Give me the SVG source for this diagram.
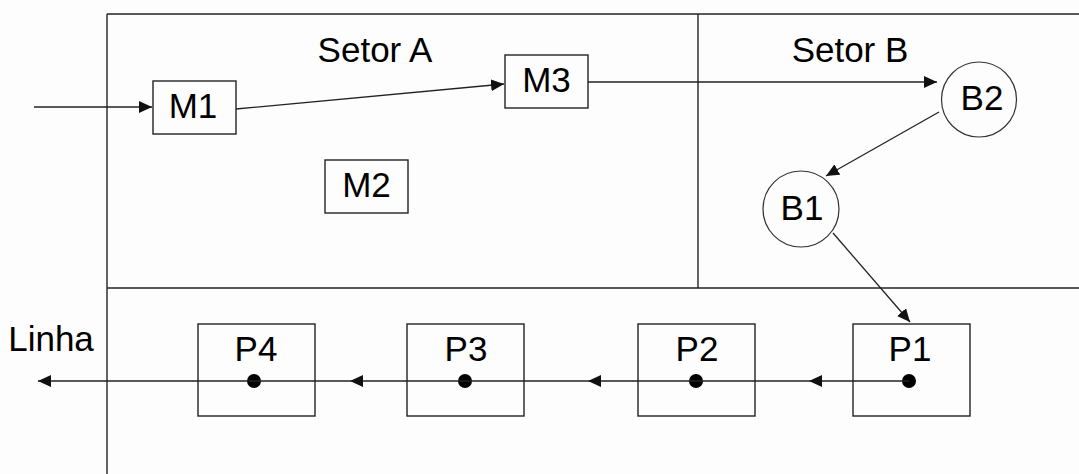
<svg xmlns="http://www.w3.org/2000/svg" width="1079" height="474" viewBox="0 0 1079 474">
<style>
.frame{fill:none;stroke:#222;stroke-width:1.4}
.box{fill:none;stroke:#222;stroke-width:1.4}
.circ{fill:none;stroke:#333;stroke-width:1.2}
.con{fill:none;stroke:#222;stroke-width:1.3}
.lbl{font-family:"Liberation Sans",Arial,sans-serif;font-size:35px;fill:#000;text-anchor:middle}
.dot{fill:#000}
</style>
<defs>
<marker id="ah" markerUnits="userSpaceOnUse" markerWidth="14" markerHeight="12" refX="13" refY="6" orient="auto">
<path d="M0,0 L13,6 L0,12 z" fill="#111"/>
</marker>
</defs>
<rect width="1079" height="474" fill="#fdfdfd"/>
<g id="frame">
<line class="frame" x1="107" y1="14" x2="1079" y2="14"/>
<line class="frame" x1="107" y1="14" x2="107" y2="474"/>
<line class="frame" x1="107" y1="288" x2="1079" y2="288"/>
<line class="frame" x1="698" y1="14" x2="698" y2="288"/>
<text class="lbl" x="375" y="62">Setor A</text>
<text class="lbl" x="850" y="62">Setor B</text>
<text class="lbl" x="51" y="351">Linha</text>
</g>
<g id="M1"><rect class="box" x="153" y="81" width="83" height="53"/><text class="lbl" x="193" y="118">M1</text></g>
<g id="M2"><rect class="box" x="325" y="160" width="83" height="53"/><text class="lbl" x="366.5" y="197">M2</text></g>
<g id="M3"><rect class="box" x="505" y="55" width="83" height="53"/><text class="lbl" x="546.5" y="92">M3</text></g>
<g id="B2"><circle class="circ" cx="979" cy="99.5" r="37.5"/><text class="lbl" x="982" y="110">B2</text></g>
<g id="B1"><circle class="circ" cx="801" cy="209" r="38"/><text class="lbl" x="802" y="220">B1</text></g>
<g id="P1"><rect class="box" x="853" y="324" width="117" height="92"/><text class="lbl" x="910" y="361">P1</text><circle class="dot" cx="909" cy="381" r="7"/></g>
<g id="P2"><rect class="box" x="638" y="324" width="117" height="92"/><text class="lbl" x="697" y="361">P2</text><circle class="dot" cx="696" cy="381" r="7"/></g>
<g id="P3"><rect class="box" x="407" y="324" width="117" height="92"/><text class="lbl" x="466" y="361">P3</text><circle class="dot" cx="465" cy="381" r="7"/></g>
<g id="P4"><rect class="box" x="198" y="324" width="117" height="92"/><text class="lbl" x="256" y="361">P4</text><circle class="dot" cx="254" cy="381" r="7"/></g>
<g id="connectors">
<line class="con" x1="34" y1="107" x2="152" y2="107" marker-end="url(#ah)"/>
<line class="con" x1="236" y1="109" x2="504" y2="84" marker-end="url(#ah)"/>
<line class="con" x1="588" y1="82" x2="937" y2="82" marker-end="url(#ah)"/>
<line class="con" x1="939" y1="112" x2="826" y2="176" marker-end="url(#ah)"/>
<line class="con" x1="833" y1="233" x2="910" y2="322" marker-end="url(#ah)"/>
<line class="con" x1="909" y1="381" x2="809" y2="381" marker-end="url(#ah)"/>
<line class="con" x1="809" y1="381" x2="696" y2="381"/>
<line class="con" x1="696" y1="381" x2="588" y2="381" marker-end="url(#ah)"/>
<line class="con" x1="588" y1="381" x2="465" y2="381"/>
<line class="con" x1="465" y1="381" x2="350" y2="381" marker-end="url(#ah)"/>
<line class="con" x1="350" y1="381" x2="254" y2="381"/>
<line class="con" x1="254" y1="381" x2="38" y2="381" marker-end="url(#ah)"/>
</g>
</svg>
